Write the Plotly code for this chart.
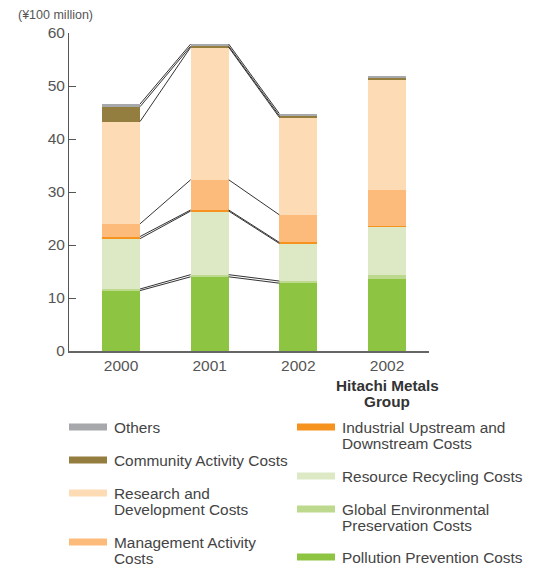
import plotly.graph_objects as go

# Environmental conservation costs (¥100 million), stacked bottom-up
categories = ["2000", "2001", "2002", "2002"]
pollution = [11.4, 14.0, 12.8, 13.6]
global_env = [0.3, 0.4, 0.4, 0.8]
resource = [9.5, 12.0, 7.1, 9.0]
industrial = [0.4, 0.2, 0.2, 0.2]
management = [2.4, 5.7, 5.2, 6.8]
rnd = [19.3, 25.0, 18.4, 20.8]
community = [2.8, 0.2, 0.3, 0.3]
others = [0.5, 0.4, 0.4, 0.4]

series = [
    ("Pollution Prevention Costs", pollution, "#8dc543"),
    ("Global Environmental Preservation Costs", global_env, "#bcd98e"),
    ("Resource Recycling Costs", resource, "#dde9c5"),
    ("Industrial Upstream and Downstream Costs", industrial, "#f6921e"),
    ("Management Activity Costs", management, "#fdbb7b"),
    ("Research and Development Costs", rnd, "#fddbb5"),
    ("Community Activity Costs", community, "#937d3f"),
    ("Others", others, "#a6a8ab"),
]

W, H = 537, 569
L, R, T, B = 69, 108, 33, 218
PW, PH = W - L - R, H - T - B
BAR_W = 0.43
xpos = list(range(len(categories)))


def px_x(px):
    return (px - L) / PW


def px_y(py):
    return (H - B - py) / PH


fig = go.Figure()

for name, vals, color in series:
    fig.add_trace(go.Bar(x=xpos, y=vals, name=name, marker_color=color,
                         marker_line_width=0, width=BAR_W, showlegend=False))

# connector lines between the tops of each segment for the first three bars
cum = [[0.0] * len(categories)]
for _, vals, _ in series:
    cum.append([c + v for c, v in zip(cum[-1], vals)])
lx, ly = [], []
for level in cum[1:]:
    for i in range(2):
        lx += [xpos[i] + BAR_W / 2, xpos[i + 1] - BAR_W / 2, None]
        ly += [level[i], level[i + 1], None]
fig.add_trace(go.Scatter(x=lx, y=ly, mode="lines", showlegend=False,
                         line=dict(color="#333333", width=1), hoverinfo="skip"))

FONT = "Liberation Sans, Arial, sans-serif"

fig.update_layout(
    width=W, height=H, barmode="stack", bargap=0,
    margin=dict(l=L, r=R, t=T, b=B), plot_bgcolor="white", paper_bgcolor="white",
    font=dict(family=FONT, size=15, color="#444444"),
    xaxis=dict(range=[-0.5865, 3.4736], tickvals=xpos, ticktext=categories,
               showgrid=False, zeroline=False, showline=True, linecolor="#666666",
               linewidth=1.5, ticks="", tickfont=dict(size=15.5, color="#555555")),
    yaxis=dict(range=[0, 60], tickvals=[0, 10, 20, 30, 40, 50, 60], showgrid=False,
               zeroline=False, showline=True, linecolor="#555555", linewidth=1,
               ticks="inside", ticklen=7, tickcolor="#555555",
               tickfont=dict(size=15.5, color="#555555")),
)

annotations = [
    dict(text="(¥100 million)", x=px_x(16), y=px_y(15), xanchor="left", yanchor="middle",
         font=dict(size=12.5, color="#555555")),
    dict(text="<b>Hitachi Metals</b>", x=px_x(387), y=px_y(385), xanchor="center",
         yanchor="middle", font=dict(size=15.3, color="#333333")),
    dict(text="<b>Group</b>", x=px_x(387), y=px_y(401), xanchor="center",
         yanchor="middle", font=dict(size=15.3, color="#333333")),
]

# legend: (label lines, colour, swatch left px, swatch centre y px)
legend_items = [
    (["Others"], "#a6a8ab", 69, 427),
    (["Community Activity Costs"], "#937d3f", 69, 460),
    (["Research and", "Development Costs"], "#fddbb5", 69, 493),
    (["Management Activity", "Costs"], "#fdbb7b", 69, 542),
    (["Industrial Upstream and", "Downstream Costs"], "#f6921e", 297, 427),
    (["Resource Recycling Costs"], "#dde9c5", 297, 476),
    (["Global Environmental", "Preservation Costs"], "#bcd98e", 297, 509),
    (["Pollution Prevention Costs"], "#8dc543", 297, 557),
]
shapes = []
for lines, color, sx, sy in legend_items:
    shapes.append(dict(type="rect", xref="paper", yref="paper", x0=px_x(sx), x1=px_x(sx + 38),
                       y0=px_y(sy + 3.5), y1=px_y(sy - 3.5), fillcolor=color, line_width=0))
    for k, line in enumerate(lines):
        annotations.append(dict(text=line, x=px_x(sx + 43), y=px_y(sy + 16 * k),
                                xanchor="left", yanchor="middle",
                                font=dict(size=15.4, color="#444444")))

for a in annotations:
    a.update(xref="paper", yref="paper", showarrow=False)
fig.update_layout(annotations=annotations, shapes=shapes)

fig.write_html("out.html")
